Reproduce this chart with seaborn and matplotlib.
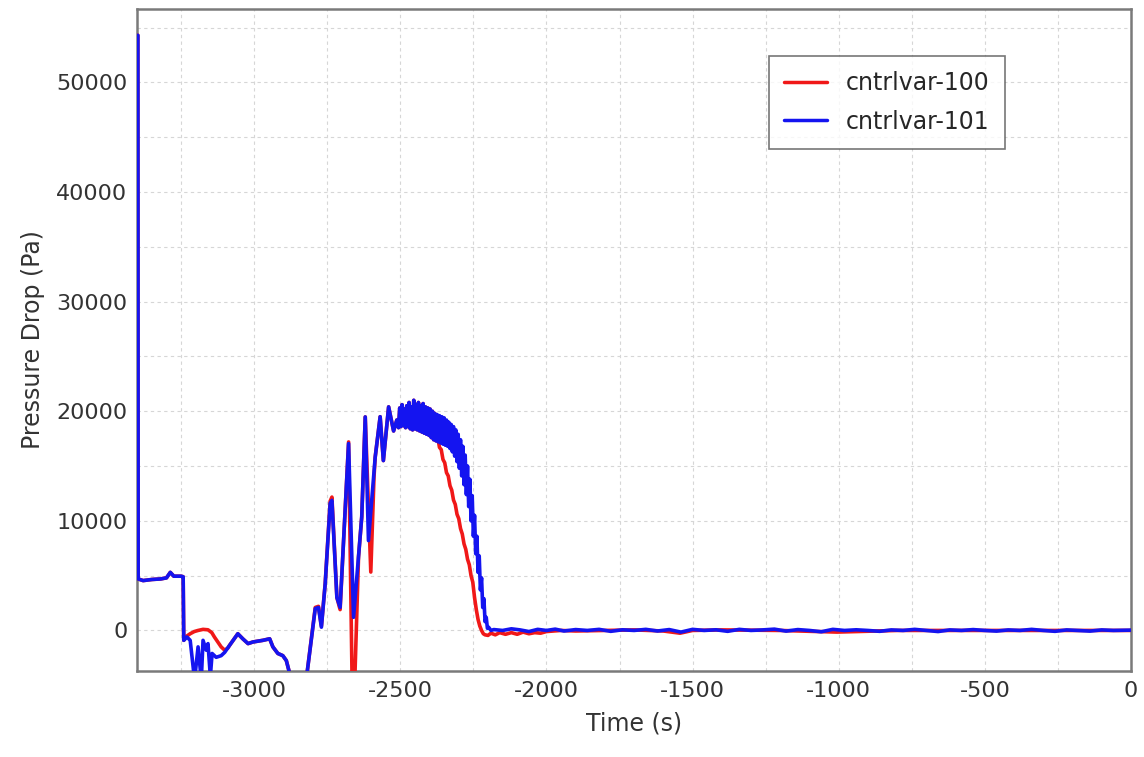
import pandas as pd
import matplotlib
matplotlib.use("Agg")
import matplotlib.pyplot as plt
from matplotlib.ticker import MultipleLocator
import seaborn as sns

# --- values ---
# shared start: spike at the left edge then plateau
t_start = [-3398, -3397, -3380, -3350, -3320, -3300, -3287, -3275, -3250, -3243]
p_start = [54300, 4700, 4550, 4650, 4700, 4800, 5300, 4950, 4950, 4900]

# cntrlvar-101 (blue)
t_101 = [-3241, -3230, -3219, -3204, -3192, -3181, -3175, -3164, -3158, -3150,
         -3144, -3130, -3113, -3101, -3084, -3056, -3039, -3021, -3004, -2970,
         -2947, -2936, -2919, -2902, -2890, -2873, -2822, -2805, -2791, -2780,
         -2770, -2757, -2740, -2734, -2717, -2706, -2677, -2660, -2643, -2632,
         -2620, -2609, -2597, -2586, -2569, -2558, -2540, -2523, -2512,
         -2506, -2502, -2498, -2494, -2490, -2486, -2482, -2478, -2474, -2470,
         -2466, -2462, -2458, -2454, -2450, -2446, -2442, -2438, -2434, -2430,
         -2426, -2422, -2418, -2414, -2410, -2406, -2402, -2398, -2394, -2390,
         -2386, -2382, -2378, -2374, -2370, -2366, -2362, -2358, -2354, -2350,
         -2346, -2342, -2338, -2334, -2330, -2326, -2322, -2318, -2314, -2310,
         -2306, -2302, -2298, -2294, -2290, -2286, -2282, -2278, -2274, -2270,
         -2266, -2262, -2258, -2254, -2250, -2246, -2242, -2238, -2234, -2230,
         -2226, -2222, -2218, -2214, -2210, -2206, -2202, -2198, -2190,
         -2180, -2150, -2120, -2090, -2060, -2030, -2000, -1970, -1940, -1900,
         -1860, -1820, -1780, -1740, -1700, -1660, -1620, -1580, -1540, -1500,
         -1460, -1420, -1380, -1340, -1300, -1260, -1220, -1180, -1140, -1100,
         -1060, -1020, -980, -940, -900, -860, -820, -780, -740, -700,
         -660, -620, -580, -540, -500, -460, -420, -380, -340, -300,
         -260, -220, -180, -140, -100, -60, -20, 0]
p_101 = [-900, -600, -900, -4500, -1500, -4500, -900, -1800, -1200, -4200,
         -2100, -2450, -2300, -2000, -1350, -300, -760, -1200, -1050, -900,
         -760, -1500, -2100, -2300, -2750, -4500, -4500, -900, 2000, 2100,
         300, 4260, 11600, 11870, 3000, 2100, 17050, 1200, 6700, 10350,
         19480, 8200, 12200, 15800, 19500, 15500, 20400, 18200, 19200,
         18500, 20300, 18600, 20600, 18700, 20200, 18500, 20500, 18600, 20800,
         18400, 20400, 18300, 21000, 18400, 20600, 18300, 20800, 18200, 20500,
         18100, 20700, 18000, 20400, 17900, 20300, 17800, 20200, 17600, 20000,
         17400, 19800, 17300, 19700, 17200, 19600, 17100, 19500, 17000, 19400,
         16900, 19200, 16800, 19000, 16600, 18800, 16300, 18600, 15900, 18300,
         15400, 17900, 14800, 17400, 14100, 16800, 13300, 16000, 12400, 15000,
         11300, 13800, 10000, 12300, 8600, 10500, 7000, 8600, 5300, 6800,
         3700, 4800, 2100, 2900, 800, 1200, 200, 300, 0,
         80, 0, 150, 50, -100, 100, 0, 120, -50, 80,
         0, 100, -80, 60, 0, 100, -50, 80, -150, 100,
         0, 60, -80, 100, 0, 50, 120, -60, 80, 0,
         -120, 100, 0, 60, 0, -80, 50, 0, 100, 0,
         -100, 50, 0, 80, 0, -60, 50, 0, 100, 0,
         -80, 50, 0, -60, 50, 0, 20, 30]

# cntrlvar-100 (red)
t_100 = [-3241, -3230, -3219, -3205, -3192, -3175, -3158, -3145, -3136, -3113,
         -3101, -3090, -3084, -3056, -3039, -3021, -3004, -2970, -2947, -2936,
         -2919, -2902, -2890, -2873, -2822, -2805, -2791, -2780, -2770, -2757,
         -2740, -2734, -2717, -2706, -2677, -2662, -2643, -2632, -2620, -2601,
         -2590, -2586, -2569, -2558, -2540, -2523, -2512,
         -2506, -2502, -2498, -2494, -2490, -2486, -2482, -2478, -2474, -2470,
         -2466, -2462, -2458, -2454, -2450, -2446, -2442, -2438, -2434, -2430,
         -2426, -2422, -2418, -2414, -2410, -2406, -2402, -2398, -2394, -2390,
         -2386, -2382, -2378, -2372, -2366, -2360, -2354, -2348, -2342, -2336,
         -2330, -2324, -2318, -2312, -2306, -2300, -2294, -2288, -2282, -2276,
         -2270, -2264, -2258, -2252, -2246, -2240, -2234, -2228, -2222, -2216,
         -2210, -2200, -2190, -2175, -2160, -2140, -2120, -2100, -2080, -2060,
         -2040, -2020, -2000, -1950, -1900, -1800, -1700, -1600, -1543, -1500,
         -1400, -1200, -1006, -800, -500, -200, 0]
p_100 = [-900, -500, -300, -100, 0, 100, 60, -200, -600, -1500,
         -1800, -1600, -1350, -300, -760, -1200, -1050, -900, -760, -1500,
         -2100, -2300, -2750, -4500, -4500, -900, 2100, 2200, 400, 4300,
         11800, 12170, 3000, 1900, 17200, -10000, 6700, 10350, 19480, 5330,
         14000, 15800, 19500, 15500, 20400, 18200, 19200,
         18500, 20300, 18600, 20600, 18700, 20200, 18500, 20500, 18600, 20800,
         18400, 20400, 18300, 21000, 18400, 20600, 18300, 20800, 18200, 20500,
         18100, 20700, 18000, 20400, 17900, 20300, 17800, 20200, 17600, 20000,
         17400, 19800, 17300, 17600, 16700, 16500, 15600, 15300, 14400, 14100,
         13200, 12800, 11900, 11500, 10600, 10200, 9300, 8800, 7900, 7400,
         6500, 6000, 5000, 4400, 3000, 1900, 1000, 400, 0, -300,
         -400, -450, -250, -400, -200, -350, -200, -350, -150, -300,
         -200, -250, -100, 0, -50, 0, 50, -50, -250, 0,
         50, 0, -150, 0, 0, 0, 0]

labels = ["cntrlvar-100", "cntrlvar-101"]

df = pd.concat([
    pd.DataFrame({"t": t_start + t_100, "p": p_start + p_100, "var": labels[0]}),
    pd.DataFrame({"t": t_start + t_101, "p": p_start + p_101, "var": labels[1]}),
], ignore_index=True)

sns.set_style("white")
plt.rcParams["font.family"] = ["DejaVu Sans"]
plt.rcParams["axes.unicode_minus"] = False

fig = plt.figure(figsize=(11.44, 7.57), dpi=100)
ax = fig.add_axes([0.12, 0.1136, 0.8686, 0.8745])

sns.lineplot(data=df, x="t", y="p", hue="var", hue_order=labels,
             palette={labels[0]: "#f01818", labels[1]: "#1414f0"},
             estimator=None, sort=False, linewidth=2.6, ax=ax, zorder=3)

ax.set_xlim(-3400, 0)
ax.set_ylim(-3700, 56700)
ax.xaxis.set_major_locator(MultipleLocator(500))
ax.xaxis.set_minor_locator(MultipleLocator(250))
ax.yaxis.set_major_locator(MultipleLocator(10000))
ax.yaxis.set_minor_locator(MultipleLocator(5000))
ax.grid(True, which="both", color="#d6d6d6", linestyle=(0, (3, 3)), linewidth=0.8)
ax.tick_params(which="both", length=0, labelsize=16, labelcolor="#333333", pad=7)

for s in ax.spines.values():
    s.set_color("#7a7a7a")
    s.set_linewidth(1.8)

ax.set_xlabel("Time (s)", fontsize=17, color="#333333", labelpad=8)
ax.set_ylabel("Pressure Drop (Pa)", fontsize=17, color="#333333", labelpad=8)

leg = ax.legend(loc="upper right", bbox_to_anchor=(0.873, 0.929), borderaxespad=0,
                fontsize=17, frameon=True, fancybox=False, handlelength=1.8,
                handletextpad=0.8, labelspacing=0.6, borderpad=0.65)
leg.get_frame().set_edgecolor("#555555")
leg.get_frame().set_linewidth(1.2)
for h in leg.get_lines():
    h.set_linewidth(2.5)

fig.savefig("out.png", dpi=100)
